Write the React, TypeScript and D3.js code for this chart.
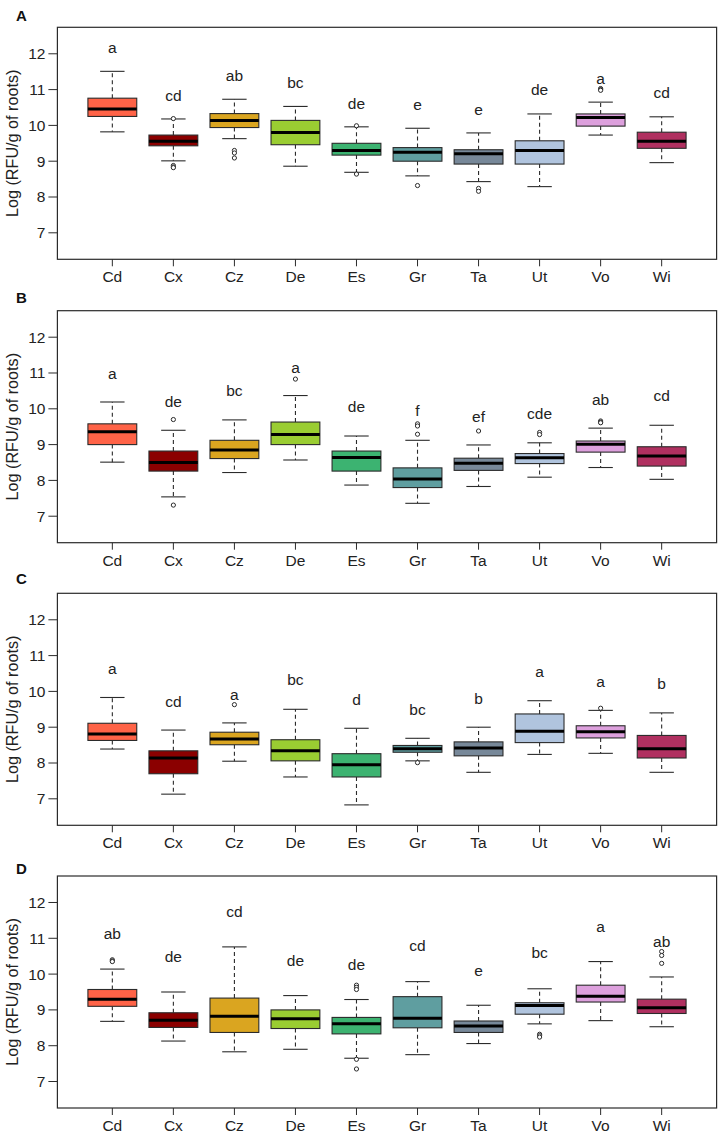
import React from "react";
import * as d3 from "d3";

// categories and fill colours (R named colours)
const categories = ["Cd", "Cx", "Cz", "De", "Es", "Gr", "Ta", "Ut", "Vo", "Wi"];
const boxColors = [
  "#FF6347", "#8B0000", "#DAA520", "#9ACD32", "#3CB371",
  "#5F9EA0", "#778899", "#B0C4DE", "#DDA0DD", "#B03060",
];
const yTicks = [7, 8, 9, 10, 11, 12];

// [lower whisker, q1, median, q3, upper whisker]
const statsA = [
  [9.82, 10.25, 10.46, 10.76, 11.51],
  [9.01, 9.43, 9.56, 9.73, 10.18],
  [9.63, 9.94, 10.14, 10.33, 10.73],
  [8.86, 9.46, 9.8, 10.14, 10.53],
  [8.69, 9.17, 9.3, 9.5, 9.96],
  [8.59, 9.0, 9.25, 9.38, 9.92],
  [8.43, 8.92, 9.21, 9.32, 9.79],
  [8.29, 8.92, 9.3, 9.57, 10.32],
  [9.73, 9.98, 10.22, 10.32, 10.65],
  [8.96, 9.36, 9.56, 9.81, 10.24],
];
const outliersA = [
  [], [10.19, 8.88, 8.84, 8.82], [9.3, 9.23, 9.09], [], [9.99, 8.64],
  [8.32], [8.24, 8.16], [], [11.03, 11.0, 10.98], [],
];
const lettersA = ["a", "cd", "ab", "bc", "de", "e", "e", "de", "a", "cd"];
const letterYA = [12.16, 10.83, 11.39, 11.2, 10.6, 10.58, 10.45, 10.99, 11.3, 10.91];

const statsB = [
  [8.51, 9.0, 9.36, 9.58, 10.19],
  [7.54, 8.26, 8.5, 8.82, 9.4],
  [8.22, 8.61, 8.85, 9.12, 9.69],
  [8.57, 9.0, 9.28, 9.63, 10.37],
  [7.87, 8.26, 8.64, 8.82, 9.24],
  [7.36, 7.8, 8.04, 8.35, 9.12],
  [7.83, 8.28, 8.48, 8.62, 8.99],
  [8.09, 8.47, 8.63, 8.75, 9.05],
  [8.36, 8.79, 9.01, 9.1, 9.46],
  [8.03, 8.4, 8.68, 8.94, 9.54],
];
const outliersB = [
  [], [9.7, 7.31], [], [10.83], [],
  [9.58, 9.52, 9.29], [9.38], [9.34, 9.28], [9.66, 9.63, 9.61], [],
];
const lettersB = ["a", "de", "bc", "a", "de", "f", "ef", "cde", "ab", "cd"];
const letterYB = [10.99, 10.21, 10.5, 11.16, 10.06, 9.94, 9.79, 9.87, 10.27, 10.36];

const statsC = [
  [8.39, 8.63, 8.81, 9.11, 9.83],
  [7.13, 7.7, 8.14, 8.34, 8.92],
  [8.05, 8.51, 8.67, 8.86, 9.12],
  [7.61, 8.06, 8.34, 8.65, 9.5],
  [6.83, 7.61, 7.95, 8.26, 8.97],
  [8.06, 8.3, 8.4, 8.49, 8.69],
  [7.74, 8.2, 8.42, 8.59, 9.0],
  [8.24, 8.57, 8.89, 9.37, 9.74],
  [8.27, 8.7, 8.87, 9.04, 9.47],
  [7.74, 8.14, 8.4, 8.77, 9.4],
];
const outliersC = [
  [], [], [9.63], [], [],
  [8.01], [], [], [9.53], [],
];
const lettersC = ["a", "cd", "a", "bc", "d", "bc", "b", "a", "a", "b"];
const letterYC = [10.63, 9.72, 9.91, 10.32, 9.78, 9.5, 9.81, 10.54, 10.28, 10.21];

const statsD = [
  [8.68, 9.1, 9.3, 9.57, 10.14],
  [8.13, 8.51, 8.71, 8.92, 9.5],
  [7.83, 8.37, 8.82, 9.33, 10.76],
  [7.9, 8.48, 8.75, 9.0, 9.4],
  [7.65, 8.33, 8.61, 8.79, 9.29],
  [7.75, 8.5, 8.77, 9.37, 9.79],
  [8.06, 8.37, 8.55, 8.69, 9.13],
  [8.61, 8.88, 9.12, 9.2, 9.59],
  [8.7, 9.22, 9.38, 9.69, 10.35],
  [8.53, 8.9, 9.06, 9.3, 9.92],
];
const outliersD = [
  [10.4, 10.37, 10.35], [], [], [], [9.69, 9.63, 9.57, 7.62, 7.35],
  [], [], [8.32, 8.28, 8.24], [], [10.63, 10.52, 10.3],
];
const lettersD = ["ab", "de", "cd", "de", "de", "cd", "e", "bc", "a", "ab"];
const letterYD = [11.13, 10.48, 11.76, 10.39, 10.26, 10.79, 10.11, 10.6, 11.34, 10.92];

const panels = [
  { tag: "A", top: 27.3, tagY: 21, stats: statsA, outliers: outliersA, letters: lettersA, letterY: letterYA },
  { tag: "B", top: 310.7, tagY: 303, stats: statsB, outliers: outliersB, letters: lettersB, letterY: letterYB },
  { tag: "C", top: 593.3, tagY: 584, stats: statsC, outliers: outliersC, letters: lettersC, letterY: letterYC },
  { tag: "D", top: 876, tagY: 874, stats: statsD, outliers: outliersD, letters: lettersD, letterY: letterYD },
];

const W = 721;
const H = 1136;
const left = 57.4;
const right = 716.6;
const panelH = 232;
const font = "'Liberation Sans', Arial, Helvetica, sans-serif";
const ink = "#2b2b2b";
const fs = 15.5;

const x = d3.scaleLinear().domain([0.1, 10.9]).range([left, right]);
const boxHalf = x(1.4) - x(1);
const capHalf = x(1.2) - x(1);

function Panel({ p }: { p: any }) {
  const y = d3.scaleLinear().domain([6.26, 12.74]).range([p.top + panelH, p.top]);
  const bottom = p.top + panelH;
  const midY = p.top + panelH / 2;
  return (
    <g>
      <text x={16} y={p.tagY} fontFamily={font} fontWeight="bold" fontSize={15} fill="#111">
        {p.tag}
      </text>
      <text
        transform={`translate(18,${midY}) rotate(-90)`}
        textAnchor="middle"
        fontFamily={font}
        fontSize={16.2}
        fill="#222"
      >
        Log (RFU/g of roots)
      </text>
      {yTicks.map((t) => (
        <g key={t}>
          <line x1={left - 9} x2={left} y1={y(t)} y2={y(t)} stroke={ink} strokeWidth={1} />
          <text x={left - 12} y={y(t)} dy="0.35em" textAnchor="end" fontFamily={font} fontSize={fs} fill="#222">
            {t}
          </text>
        </g>
      ))}
      {categories.map((c, i) => (
        <g key={c}>
          <line x1={x(i + 1)} x2={x(i + 1)} y1={bottom} y2={bottom + 7} stroke={ink} strokeWidth={1} />
          <text x={x(i + 1)} y={bottom + 23} textAnchor="middle" fontFamily={font} fontSize={fs} fill="#222">
            {c}
          </text>
        </g>
      ))}
      {p.stats.map((s: number[], i: number) => {
        const cx = x(i + 1);
        const [lo, q1, med, q3, hi] = s;
        return (
          <g key={i}>
            <line x1={cx} x2={cx} y1={y(q3)} y2={y(hi)} stroke={ink} strokeWidth={1.1} strokeDasharray="4,3" />
            <line x1={cx} x2={cx} y1={y(q1)} y2={y(lo)} stroke={ink} strokeWidth={1.1} strokeDasharray="4,3" />
            <line x1={cx - capHalf} x2={cx + capHalf} y1={y(hi)} y2={y(hi)} stroke={ink} strokeWidth={1.1} />
            <line x1={cx - capHalf} x2={cx + capHalf} y1={y(lo)} y2={y(lo)} stroke={ink} strokeWidth={1.1} />
            <rect
              x={cx - boxHalf}
              y={y(q3)}
              width={boxHalf * 2}
              height={y(q1) - y(q3)}
              fill={boxColors[i]}
              stroke={ink}
              strokeWidth={1.1}
            />
            <line x1={cx - boxHalf} x2={cx + boxHalf} y1={y(med)} y2={y(med)} stroke="#000" strokeWidth={3} />
            {p.outliers[i].map((o: number, k: number) => (
              <circle key={k} cx={cx} cy={y(o)} r={2.1} fill="white" stroke={ink} strokeWidth={1} />
            ))}
            <text x={cx} y={y(p.letterY[i])} dy="0.35em" textAnchor="middle" fontFamily={font} fontSize={fs} fill="#222">
              {p.letters[i]}
            </text>
          </g>
        );
      })}
      <rect x={left} y={p.top} width={right - left} height={panelH} fill="none" stroke={ink} strokeWidth={1.2} />
    </g>
  );
}

export default function App() {
  return (
    <svg
      width={W}
      height={H}
      style={{ position: "absolute", left: 0, top: 0, display: "block", background: "white" }}
    >
      <rect width={W} height={H} fill="white" />
      {panels.map((p) => (
        <Panel key={p.tag} p={p} />
      ))}
    </svg>
  );
}
